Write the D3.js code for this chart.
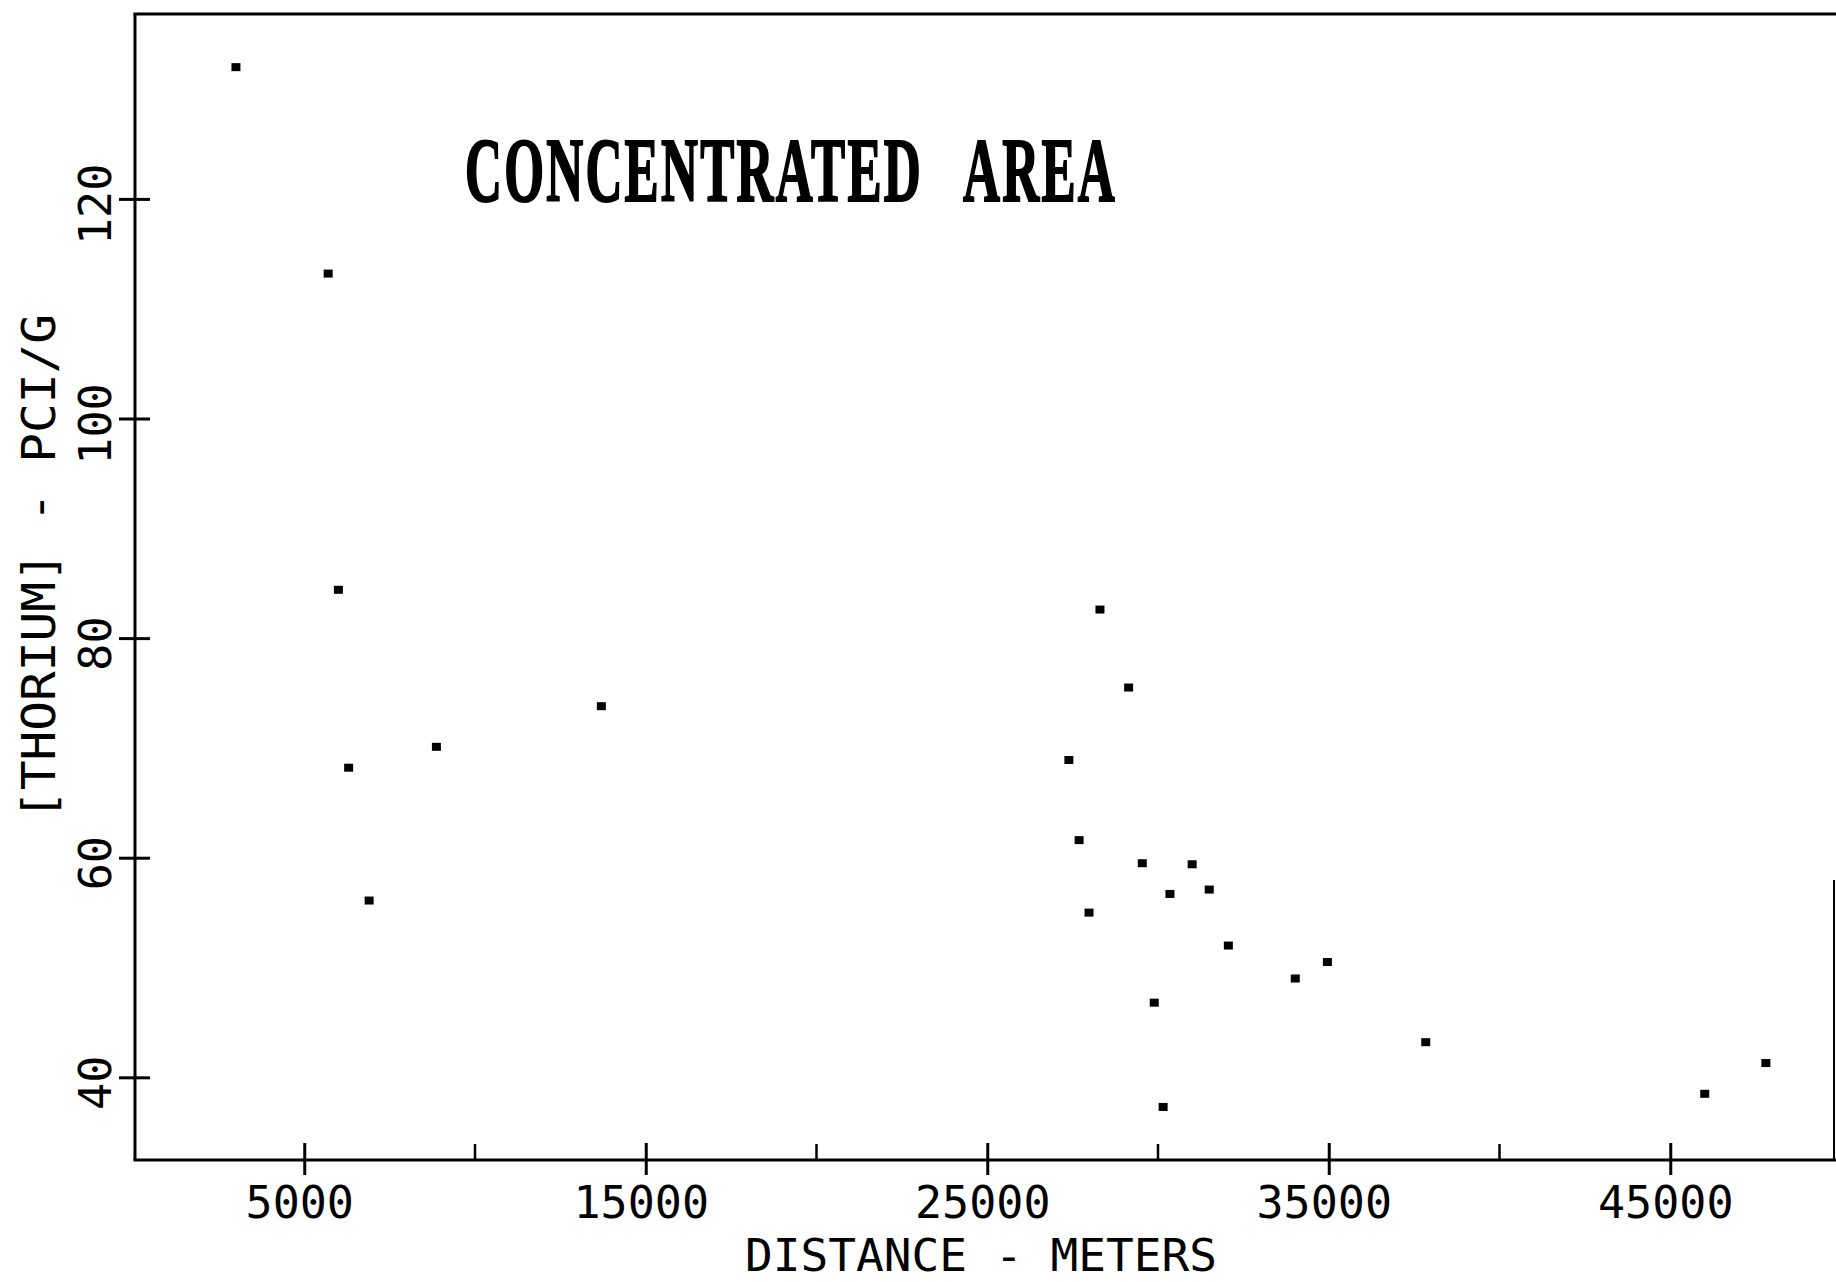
<!DOCTYPE html>
<html>
<head>
<meta charset="utf-8">
<script src="https://cdn.jsdelivr.net/npm/d3@7"></script>
<style>
  html, body { margin: 0; padding: 0; background: #fff; }
  svg { display: block; }
</style>
</head>
<body>
<script>
// ---- data ----
const distance = [3000, 5700, 6000, 6300, 6900, 8870, 13700,
  28300, 29140, 27390, 27690, 27980, 29540, 31000, 30350, 31500,
  32060, 34960, 34020, 29890, 30150, 37840, 46010, 47800];
const thorium = [132.0, 113.2, 84.4, 68.2, 56.1, 70.1, 73.8,
  82.6, 75.5, 68.9, 61.6, 55.0, 59.5, 59.4, 56.7, 57.1,
  52.0, 50.5, 49.0, 46.8, 37.3, 43.2, 38.5, 41.3];
const xMajorTicks = [5000, 15000, 25000, 35000, 45000];
const xMinorTicks = [10000, 20000, 30000, 40000];
const yTicks = [40, 60, 80, 100, 120];
const xDomain = [0, 50000];
const yDomain = [32.47, 136.84];
const titleText = "CONCENTRATED AREA";
const xLabel = "DISTANCE - METERS";
const yLabel = "[THORIUM] - PCI/G";

// ---- layout ----
const W = 1836, H = 1282;
const mLeft = 133.5, mTop = 14, mBottom = 1160, frameRight = 1834;
const x = d3.scaleLinear().domain(xDomain).range([mLeft, 1841]);
const y = d3.scaleLinear().domain(yDomain).range([mBottom, mTop]);
const mono = "'DejaVu Sans Mono', 'Liberation Mono', monospace";

const svg = d3.select("body").append("svg").attr("width", W).attr("height", H);
svg.append("rect").attr("width", W).attr("height", H).attr("fill", "#fff");

// frame: top, partial right
svg.append("line").attr("x1", mLeft).attr("x2", W).attr("y1", mTop).attr("y2", mTop)
  .attr("stroke", "#000").attr("stroke-width", 3);
svg.append("line").attr("x1", frameRight).attr("x2", frameRight).attr("y1", 880).attr("y2", mBottom)
  .attr("stroke", "#000").attr("stroke-width", 2);

// x axis
const xAxis = d3.axisBottom(x).tickValues(xMajorTicks).tickSize(15).tickFormat(d3.format("d"));
const gx = svg.append("g").attr("transform", `translate(0,${mBottom})`).call(xAxis);
gx.select(".domain").remove();
gx.selectAll(".tick line").attr("y1", -17).attr("stroke", "#000").attr("stroke-width", 3);
gx.selectAll(".tick text").attr("font-family", mono).attr("font-size", 45)
  .attr("fill", "#000").attr("y", 58).attr("dy", 0).attr("dx", -5);
svg.append("line").attr("x1", mLeft).attr("x2", W).attr("y1", mBottom).attr("y2", mBottom)
  .attr("stroke", "#000").attr("stroke-width", 3);
// minor ticks
svg.append("g").selectAll("line").data(xMinorTicks).join("line")
  .attr("x1", d => x(d)).attr("x2", d => x(d))
  .attr("y1", mBottom - 16).attr("y2", mBottom)
  .attr("stroke", "#000").attr("stroke-width", 2.5);

// y axis
const yAxis = d3.axisLeft(y).tickValues(yTicks).tickSize(16).tickFormat(d3.format("d"));
const gy = svg.append("g").attr("transform", `translate(${mLeft + 1.5},0)`).call(yAxis);
gy.select(".domain").remove();
gy.selectAll(".tick line").attr("x1", 15).attr("stroke", "#000").attr("stroke-width", 3);
gy.selectAll(".tick text")
  .attr("font-family", mono).attr("font-size", 45).attr("fill", "#000")
  .attr("x", 0).attr("dy", 0)
  .attr("text-anchor", "middle")
  .attr("transform", "translate(-24,5) rotate(-90)");
svg.append("line").attr("x1", mLeft + 1.5).attr("x2", mLeft + 1.5).attr("y1", mTop).attr("y2", mBottom)
  .attr("stroke", "#000").attr("stroke-width", 3);

// points
svg.append("g").selectAll("rect").data(distance.map((d, i) => [d, thorium[i]])).join("rect")
  .attr("x", d => x(d[0]) - 4.5).attr("y", d => y(d[1]) - 4)
  .attr("width", 9).attr("height", 8).attr("fill", "#000");

// title (condensed serif: measured, then scaled horizontally)
const titleG = svg.append("g");
const title = titleG.append("text").attr("x", 0).attr("y", 0)
  .attr("font-family", "'Liberation Serif', 'Times New Roman', serif")
  .attr("font-weight", "bold").attr("font-size", 92)
  .attr("letter-spacing", 4).attr("word-spacing", 50)
  .attr("fill", "#000").attr("stroke", "#000").attr("stroke-width", 2.2)
  .text(titleText);
const natW = title.node().getComputedTextLength();
titleG.attr("transform", `translate(465,201) scale(${652 / natW},1)`);

// axis labels
svg.append("text").attr("x", 981).attr("y", 1271).attr("text-anchor", "middle")
  .attr("font-family", mono).attr("font-size", 45).attr("fill", "#000")
  .attr("textLength", 472).attr("lengthAdjust", "spacingAndGlyphs").text(xLabel);
svg.append("text").attr("transform", "translate(55,567) rotate(-90)").attr("text-anchor", "middle")
  .attr("font-family", mono).attr("font-size", 46).attr("fill", "#000")
  .attr("textLength", 506).attr("lengthAdjust", "spacingAndGlyphs").text(yLabel);
</script>
</body>
</html>
